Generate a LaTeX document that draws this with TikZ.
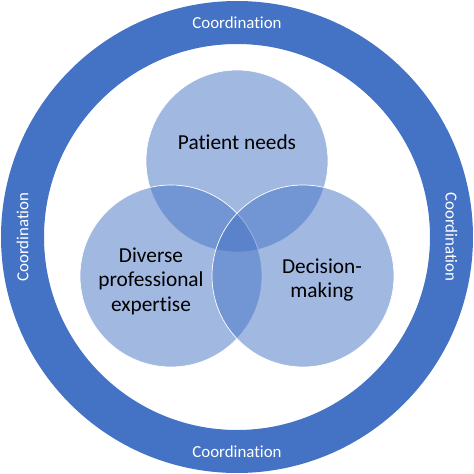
\documentclass[tikz,border=0pt]{standalone}
\usepackage{fontspec}
\setmainfont{Carlito}[Ligatures={NoCommon}]
\usepackage{tikz}
\usetikzlibrary{shapes, calc}

\definecolor{ringblue}{HTML}{4472C4}

\tikzset{
	topic/.style={circle, minimum size=5.46cm, inner sep=0pt,
		fill=ringblue, fill opacity=0.5, draw=white, line width=0.6pt},
	topictext/.style={align=center, text=black,
		font=\fontsize{18.2}{21}\selectfont},
	ringtext/.style={text=white, font=\fontsize{14.4}{17}\selectfont}
}

\begin{document}
\begin{tikzpicture}
	\def \radius {6.435cm}
	
	\useasboundingbox (-7.11,-7.11) rectangle (7.11,7.11);
	
	\node[circle, draw=ringblue, line width=1.29cm, minimum size=12.87cm,
		inner sep=0pt, outer sep=0pt] (ring) at (0,0) {};
	
	\node[topic] (needs)     at (0,2.28)      {};
	\node[topic] (expertise) at (-1.98,-1.17) {};
	\node[topic] (decision)  at (1.98,-1.17)  {};
	
	\node[topictext] (needstext)     at (0,2.85)
		{Patient needs};
	\node[topictext] (expertisetext) at (-2.58,-1.32)
		{Diverse\\professional\\expertise};
	\node[topictext] (decisiontext)  at (2.55,-1.29)
		{Decision-\\making};
	
	\node[ringtext]            (north) at (90:\radius)  {Coordination};
	\node[ringtext]            (south) at (270:\radius) {Coordination};
	\node[ringtext, rotate=90]  (west)  at (180:\radius) {Coordination};
	\node[ringtext, rotate=-90] (east)  at (0:\radius)   {Coordination};
\end{tikzpicture}
\end{document}
